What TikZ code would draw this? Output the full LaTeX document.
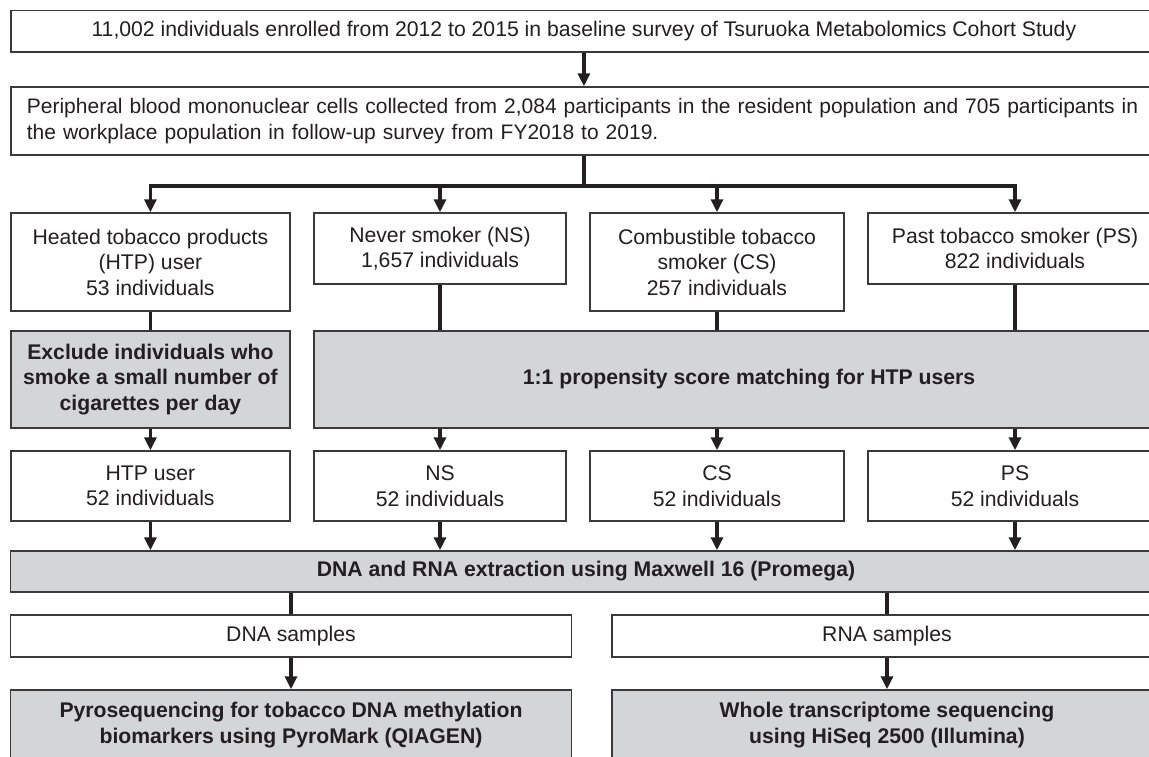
\documentclass[tikz,border=0pt]{standalone}
\usepackage{fontspec}
\setmainfont{Liberation Sans}
\usetikzlibrary{arrows.meta, positioning, calc}
\definecolor{ink}{HTML}{231F20}
\definecolor{rim}{HTML}{3A3A3A}
\definecolor{shade}{HTML}{D4D5D7}

\tikzset{
	box/.style={rectangle, draw=rim, line width=1.5pt, fill=white, inner sep=0pt, align=center, text=ink, font=\fontsize{21.2}{25.5}\selectfont},
	shadebox/.style={box, fill=shade, font=\fontsize{21.2}{25.5}\selectfont\bfseries},
	link/.style={color=ink, line width=3.5pt},
	flow/.style={link, -{Triangle[length=13pt,width=12pt]}},
}

\begin{document}
\begin{tikzpicture}[x=1pt, y=-1pt]
	\useasboundingbox (0,0) rectangle (1149,756);
	\clip (0,0) rectangle (1149,756);

	\node[box, minimum width=1146pt, minimum height=41.3pt] (TMCS) at (583.9,31.3) {11,002 individuals enrolled from 2012 to 2015 in baseline survey of Tsuruoka Metabolomics Cohort Study};
	\node[box, minimum width=1146pt, minimum height=68pt, text width=1114pt, align=left, font=\fontsize{21}{25.5}\selectfont] (PBMC) at (583.9,121) {\mbox{Peripheral blood mononuclear cells collected from 2,084 participants in the resident population and 705 participants in}\\the workplace population in follow-up survey from FY2018 to 2019.};

	\node[box, minimum width=279.3pt, minimum height=98pt] (HTP) at (150.4,262) {Heated tobacco products\\(HTP) user\\53 individuals};
	\node[box, minimum width=252pt, minimum height=71pt] (NS) at (440,248.5) {Never smoker (NS)\\1,657 individuals};
	\node[box, minimum width=254pt, minimum height=98pt] (CS) at (717,262) {Combustible tobacco\\smoker (CS)\\257 individuals};
	\node[box, minimum width=294pt, minimum height=71pt] (PS) at (1015,248.5) {Past tobacco smoker (PS)\\822 individuals};

	\node[shadebox, minimum width=279.3pt, minimum height=97pt] (EX) at (150.4,379.5) {Exclude individuals who\\smoke a small number of\\cigarettes per day};
	\node[shadebox, minimum width=870pt, minimum height=97pt] (PSM) at (749,379.5) {1:1 propensity score matching for HTP users};

	\node[box, minimum width=279.3pt, minimum height=70pt] (HTPm) at (150.4,486) {HTP user\\52 individuals};
	\node[box, minimum width=252pt, minimum height=70pt] (NSm) at (440,486) {NS\\52 individuals};
	\node[box, minimum width=254pt, minimum height=70pt] (CSm) at (717,486) {CS\\52 individuals};
	\node[box, minimum width=294pt, minimum height=70pt] (PSm) at (1015,486) {PS\\52 individuals};

	\node[shadebox, minimum width=1150.6pt, minimum height=41pt] (EXT) at (586,571.5) {DNA and RNA extraction using Maxwell 16 (Promega)};
	\node[box, minimum width=560.6pt, minimum height=42pt] (DNA) at (291,636) {DNA samples};
	\node[box, minimum width=550pt, minimum height=42pt] (RNA) at (887,636) {RNA samples};
	\node[shadebox, minimum width=560.6pt, minimum height=70pt] (PYRO) at (291,725) {Pyrosequencing for tobacco DNA methylation\\biomarkers using PyroMark (QIAGEN)};
	\node[shadebox, minimum width=550pt, minimum height=70pt] (WTS) at (887,725) {Whole transcriptome sequencing\\using HiSeq 2500 (Illumina)};

	\coordinate (split) at (583.9,186);

	\path[flow] (TMCS) edge (PBMC);
	\path[link] (PBMC.south) edge (split);
	\draw[link, line cap=rect] (split -| HTP.north) -- (split -| PS.north);
	\path[flow]
	    (split -| HTP.north) edge (HTP.north)
	    (split -| NS.north) edge (NS.north)
	    (split -| CS.north) edge (CS.north)
	    (split -| PS.north) edge (PS.north);

	\path[link]
	    (HTP) edge (EX)
	    (NS.south) edge (NS.south |- PSM.north)
	    (CS.south) edge (CS.south |- PSM.north)
	    (PS.south) edge (PS.south |- PSM.north);

	\path[flow]
	    (EX) edge (HTPm)
	    (PSM.south -| NSm.north) edge (NSm.north)
	    (PSM.south -| CSm.north) edge (CSm.north)
	    (PSM.south -| PSm.north) edge (PSm.north);

	\path[flow]
	    (HTPm.south) edge (HTPm.south |- EXT.north)
	    (NSm.south) edge (NSm.south |- EXT.north)
	    (CSm.south) edge (CSm.south |- EXT.north)
	    (PSm.south) edge (PSm.south |- EXT.north);

	\path[link]
	    (EXT.south -| DNA.north) edge (DNA.north)
	    (EXT.south -| RNA.north) edge (RNA.north);
	\path[flow]
	    (DNA) edge (PYRO)
	    (RNA) edge (WTS);
\end{tikzpicture}
\end{document}
